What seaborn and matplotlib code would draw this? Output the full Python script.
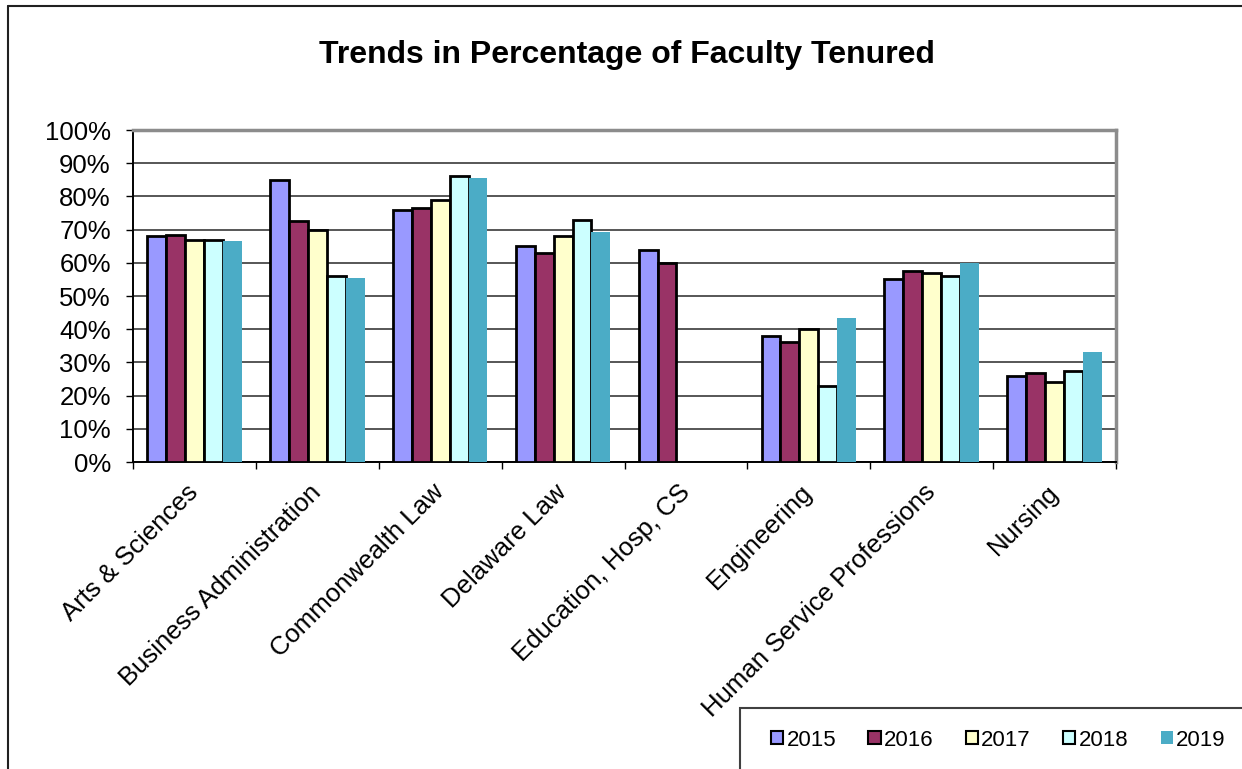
"""
Trends in percentage of faculty tenured, grouped bar chart.
"""

import matplotlib
matplotlib.use("Agg")
import matplotlib.pyplot as plt
from matplotlib.patches import Patch, Rectangle
from matplotlib.lines import Line2D
import pandas as pd
import seaborn as sns

# --- data ---
colleges = [
    "Arts & Sciences",
    "Business Administration",
    "Commonwealth Law",
    "Delaware Law",
    "Education, Hosp, CS",
    "Engineering",
    "Human Service Professions",
    "Nursing",
]
years = ["2015", "2016", "2017", "2018", "2019"]

pct_2015 = [68, 85, 76, 65, 64, 38, 55, 26]
pct_2016 = [68.3, 72.7, 76.4, 63, 60, 36, 57.6, 26.7]
pct_2017 = [67, 70, 79, 68, None, 40, 57, 24]
pct_2018 = [67, 56, 86, 73, None, 23, 56, 27.5]
pct_2019 = [66.5, 55.4, 85.5, 69.4, None, 43.3, 60, 33.2]

year_colors = ["#9999FF", "#993366", "#FFFFCC", "#CCFFFF", "#4BACC6"]

# long table for seaborn
rows = []
for year, vals in zip(years, [pct_2015, pct_2016, pct_2017, pct_2018, pct_2019]):
    for college, v in zip(colleges, vals):
        if v is not None:
            rows.append({"college": college, "year": year, "pct": v})
df = pd.DataFrame(rows)

sns.set_style("white")
plt.rcParams["font.family"] = ["Liberation Sans", "DejaVu Sans"]
plt.rcParams["text.color"] = "black"
plt.rcParams["xtick.color"] = "black"
plt.rcParams["ytick.color"] = "black"

W, H = 1242, 769
fig = plt.figure(figsize=(W / 100, H / 100), dpi=100)
ax = fig.add_axes([133 / W, 1 - 462 / H, (1116 - 133) / W, (462 - 130) / H])

sns.barplot(data=df, x="college", y="pct", hue="year", order=colleges,
            hue_order=years, palette=year_colors, saturation=1,
            width=0.77, gap=0, legend=False, errorbar=None, ax=ax, zorder=3)

# outlined bars for all but the last year
for i, cont in enumerate(ax.containers):
    for bar in cont:
        if i < 4:
            bar.set_edgecolor("black")
            bar.set_linewidth(2)
        else:
            bar.set_linewidth(0)

ax.set_xlim(-0.5, len(colleges) - 0.5)
ax.set_ylim(0, 100)
ax.set_yticks(range(0, 101, 10))
ax.set_yticklabels([f"{v}%" for v in range(0, 101, 10)], fontsize=18.5)
ax.set_xlabel("")
ax.set_ylabel("")

ax.set_xticks(range(len(colleges)))
ax.set_xticklabels(colleges, rotation=45, ha="right", va="center",
                   rotation_mode="anchor", fontsize=18.5)
ax.set_xticks([i - 0.5 for i in range(len(colleges) + 1)], minor=True)
ax.tick_params(axis="x", which="major", length=0, pad=19)
ax.tick_params(axis="x", which="minor", length=5, width=1, color="black",
               direction="out", bottom=True)
ax.tick_params(axis="y", length=5, width=1, color="black", direction="out",
               left=True, pad=11)

ax.yaxis.grid(True, color="#3a3a3a", linewidth=1.2, zorder=0)
ax.xaxis.grid(False)
ax.set_axisbelow(True)

for side in ["left", "bottom"]:
    ax.spines[side].set_color("black")
    ax.spines[side].set_linewidth(1.4)
for side in ["top", "right"]:
    ax.spines[side].set_color("#8c8c8c")
    ax.spines[side].set_linewidth(2.5)

fig.text(627 / W, 1 - 55 / H, "Trends in Percentage of Faculty Tenured",
         ha="center", va="center", fontsize=23, fontweight="bold", color="black")

# outer chart border (only top and left visible in the crop)
fig.add_artist(Line2D([8 / W, 8 / W], [0, 1 - 6 / H], transform=fig.transFigure,
                      color="#202020", linewidth=1.5))
fig.add_artist(Line2D([8 / W, 1], [1 - 6 / H, 1 - 6 / H], transform=fig.transFigure,
                      color="#202020", linewidth=1.5))

# legend box running off the bottom-right corner
fig.add_artist(Rectangle((740 / W, -0.05), 0.5, (1 - 708 / H) + 0.05,
                         transform=fig.transFigure, facecolor="white",
                         edgecolor="#404040", linewidth=1.5))
handles = [Patch(facecolor=c, edgecolor="black" if i < 4 else c,
                 linewidth=1.5 if i < 4 else 0)
           for i, c in enumerate(year_colors)]
fig.legend(handles, years, loc="center left",
           bbox_to_anchor=(762 / W, 1 - 740 / H), ncol=5, frameon=False,
           fontsize=16, handlelength=0.55, handleheight=0.55,
           handletextpad=0.15, columnspacing=1.45, borderaxespad=0)

fig.savefig("out.png", dpi=100)
plt.close(fig)
